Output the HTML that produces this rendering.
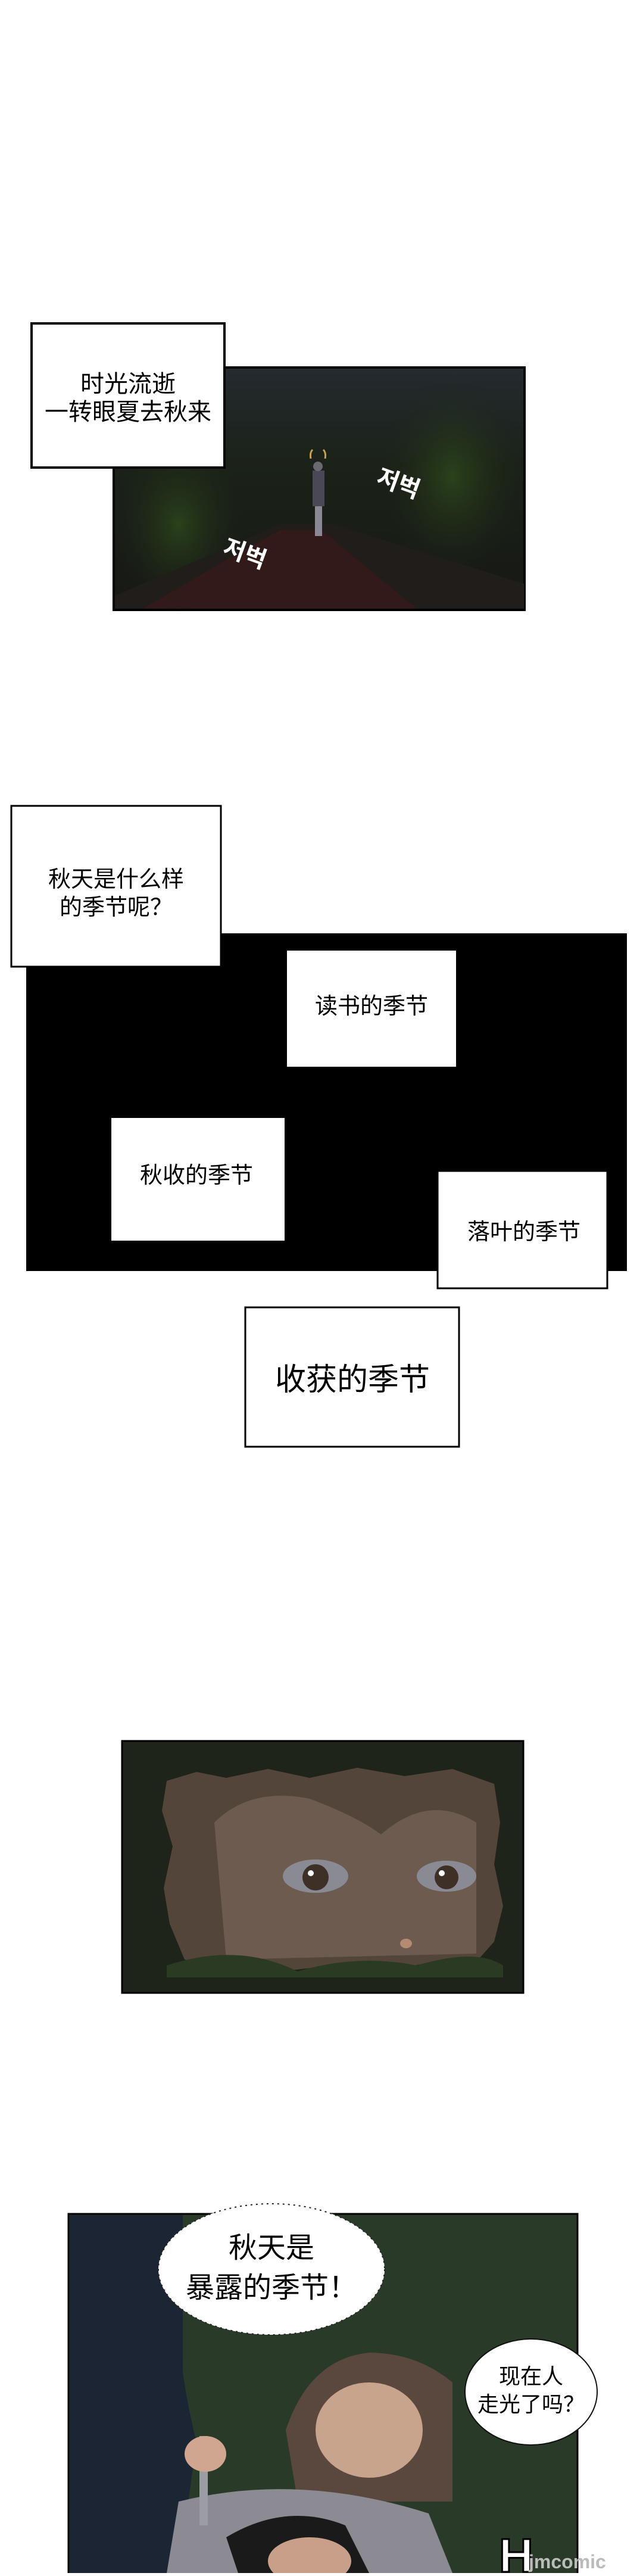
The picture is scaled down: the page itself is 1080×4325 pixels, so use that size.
<!DOCTYPE html>
<html><head><meta charset="utf-8"><style>
html,body{margin:0;padding:0;background:#fff;}
body{width:1080px;height:4320px;overflow:hidden;}
svg text{font-family:"Liberation Sans","Noto Sans CJK SC",sans-serif;}
</style></head><body>
<svg width="1080" height="4320" viewBox="0 0 1080 4320" xmlns="http://www.w3.org/2000/svg">
<defs>
<linearGradient id="sky" x1="0" y1="0" x2="0" y2="1">
<stop offset="0" stop-color="#242a30"/><stop offset="0.4" stop-color="#1b2218"/><stop offset="1" stop-color="#161814"/>
</linearGradient>
<radialGradient id="hl" cx="0.5" cy="0.5" r="0.5">
<stop offset="0" stop-color="#2f4a1c" stop-opacity="0.8"/><stop offset="1" stop-color="#1d2619" stop-opacity="0"/>
</radialGradient>
</defs>
<rect width="1080" height="4320" fill="#fff"/>

<!-- Night panel -->
<rect x="191" y="617" width="690" height="407" fill="url(#sky)" stroke="#000" stroke-width="4"/>
<ellipse cx="760" cy="800" rx="120" ry="170" fill="url(#hl)"/>
<ellipse cx="300" cy="880" rx="110" ry="150" fill="url(#hl)"/>
<polygon points="470,880 560,880 880,980 880,1022 193,1022 193,1000 380,920" fill="#201d1b"/>
<polygon points="470,890 540,890 700,1022 240,1022 380,940" fill="#321a18"/>
<rect x="525" y="790" width="20" height="60" fill="#4a4856"/>
<rect x="529" y="850" width="12" height="50" fill="#8a8894"/>
<circle cx="534" cy="783" r="8" fill="#6a6870"/>
<path d="M522 770 Q520 760 525 755 M546 770 Q548 760 543 755" stroke="#c9a14a" stroke-width="3" fill="none"/>
<text font-size="40" font-weight="bold" fill="#fff" transform="translate(630,812) rotate(20)">저벅</text>
<text font-size="40" font-weight="bold" fill="#fff" transform="translate(372,930) rotate(20)">저벅</text>

<!-- caption 1 -->
<rect x="53" y="543" width="324" height="242" fill="#fff" stroke="#000" stroke-width="4"/>
<text x="215" y="658" font-size="40" text-anchor="middle">时光流逝</text>
<text x="215" y="705" font-size="40" text-anchor="middle">一转眼夏去秋来</text>

<!-- black panel -->
<rect x="44" y="1567" width="1009" height="567" fill="#000"/>
<rect x="19" y="1353" width="352" height="270" fill="#fff" stroke="#000" stroke-width="3"/>
<text x="195" y="1489" font-size="38" text-anchor="middle">秋天是什么样</text>
<text x="195" y="1536" font-size="38" text-anchor="middle">的季节呢？</text>
<rect x="482" y="1596" width="284" height="195" fill="#fff"/>
<text x="624" y="1702" font-size="38" text-anchor="middle">读书的季节</text>
<rect x="187" y="1877" width="291" height="206" fill="#fff"/>
<text x="330" y="1986" font-size="38" text-anchor="middle">秋收的季节</text>
<rect x="735" y="1966" width="285" height="197" fill="#fff" stroke="#000" stroke-width="3"/>
<text x="880" y="2081" font-size="38" text-anchor="middle">落叶的季节</text>
<rect x="412" y="2195" width="359" height="234" fill="#fff" stroke="#000" stroke-width="3"/>
<text x="592" y="2334" font-size="52" text-anchor="middle">收获的季节</text>

<!-- face panel -->
<rect x="205" y="2923" width="674" height="423" fill="#1e2419" stroke="#000" stroke-width="3"/>
<path d="M280 2990 L330 2975 L380 2985 L450 2970 L520 2985 L600 2968 L680 2982 L760 2970 L830 2995 L840 3060 L830 3130 L845 3200 L830 3260 L790 3305 L720 3295 L650 3310 L560 3300 L470 3310 L380 3305 L310 3290 L285 3230 L275 3170 L290 3100 L272 3040 Z" fill="#54453b"/>
<path d="M360 3060 Q420 3000 520 3020 Q600 3050 640 3080 Q720 3010 800 3060 L800 3280 L380 3290 Z" fill="#6e5b50"/>
<ellipse cx="530" cy="3150" rx="55" ry="28" fill="#8a8a94"/>
<circle cx="530" cy="3152" r="22" fill="#3e3026"/>
<circle cx="522" cy="3145" r="5" fill="#fff"/>
<ellipse cx="750" cy="3150" rx="50" ry="26" fill="#8a8a94"/>
<circle cx="750" cy="3152" r="20" fill="#3e3026"/>
<circle cx="742" cy="3145" r="5" fill="#fff"/>
<ellipse cx="682" cy="3263" rx="10" ry="8" fill="#b58a70"/>
<path d="M280 3300 Q400 3260 500 3310 Q600 3280 700 3300 Q800 3270 845 3300 L845 3320 L280 3320Z" fill="#2b3a22"/>

<!-- bottom panel -->
<rect x="115" y="3717" width="855" height="605" fill="#2a3a28" stroke="#000" stroke-width="3"/>
<rect x="117" y="3719" width="190" height="601" fill="#1c2533"/>
<path d="M307 3719 Q280 3900 330 4100 L300 4320 L117 4320 L117 3719Z" fill="#1c2533"/>
<path d="M480 4080 Q520 3960 620 3950 Q700 3950 760 4000 L760 4200 L500 4200Z" fill="#5a473d"/>
<ellipse cx="620" cy="4080" rx="90" ry="80" fill="#c9a48d"/>
<path d="M300 4200 Q500 4150 720 4220 L760 4320 L280 4320Z" fill="#8c8a92"/>
<path d="M380 4260 Q480 4200 580 4240 L620 4320 L400 4320Z" fill="#1a1a1a"/>
<ellipse cx="520" cy="4300" rx="70" ry="40" fill="#c8a08a"/>
<rect x="335" y="4090" width="14" height="150" fill="#9c9ca4"/>
<ellipse cx="345" cy="4120" rx="35" ry="30" fill="#d0a690"/>

<!-- spiky bubble -->
<ellipse cx="456" cy="3810" rx="190" ry="110" fill="#fff" stroke="#222" stroke-width="2" stroke-dasharray="3 6"/>
<text x="456" y="3790" font-size="48" text-anchor="middle">秋天是</text>
<text x="456" y="3857" font-size="48" text-anchor="middle">暴露的季节！</text>

<!-- small bubble -->
<ellipse cx="892" cy="4016" rx="111" ry="89" fill="#fff" stroke="#111" stroke-width="2"/>
<text x="892" y="4002" font-size="36" text-anchor="middle">现在人</text>
<text x="892" y="4049" font-size="36" text-anchor="middle">走光了吗？</text>

<text x="838" y="4318" font-size="80" font-weight="bold" fill="#fff" stroke="#000" stroke-width="3">H</text>
<text x="888" y="4312" font-size="32" font-weight="bold" fill="#bbb">jmcomic</text>
</svg>
</body></html>
